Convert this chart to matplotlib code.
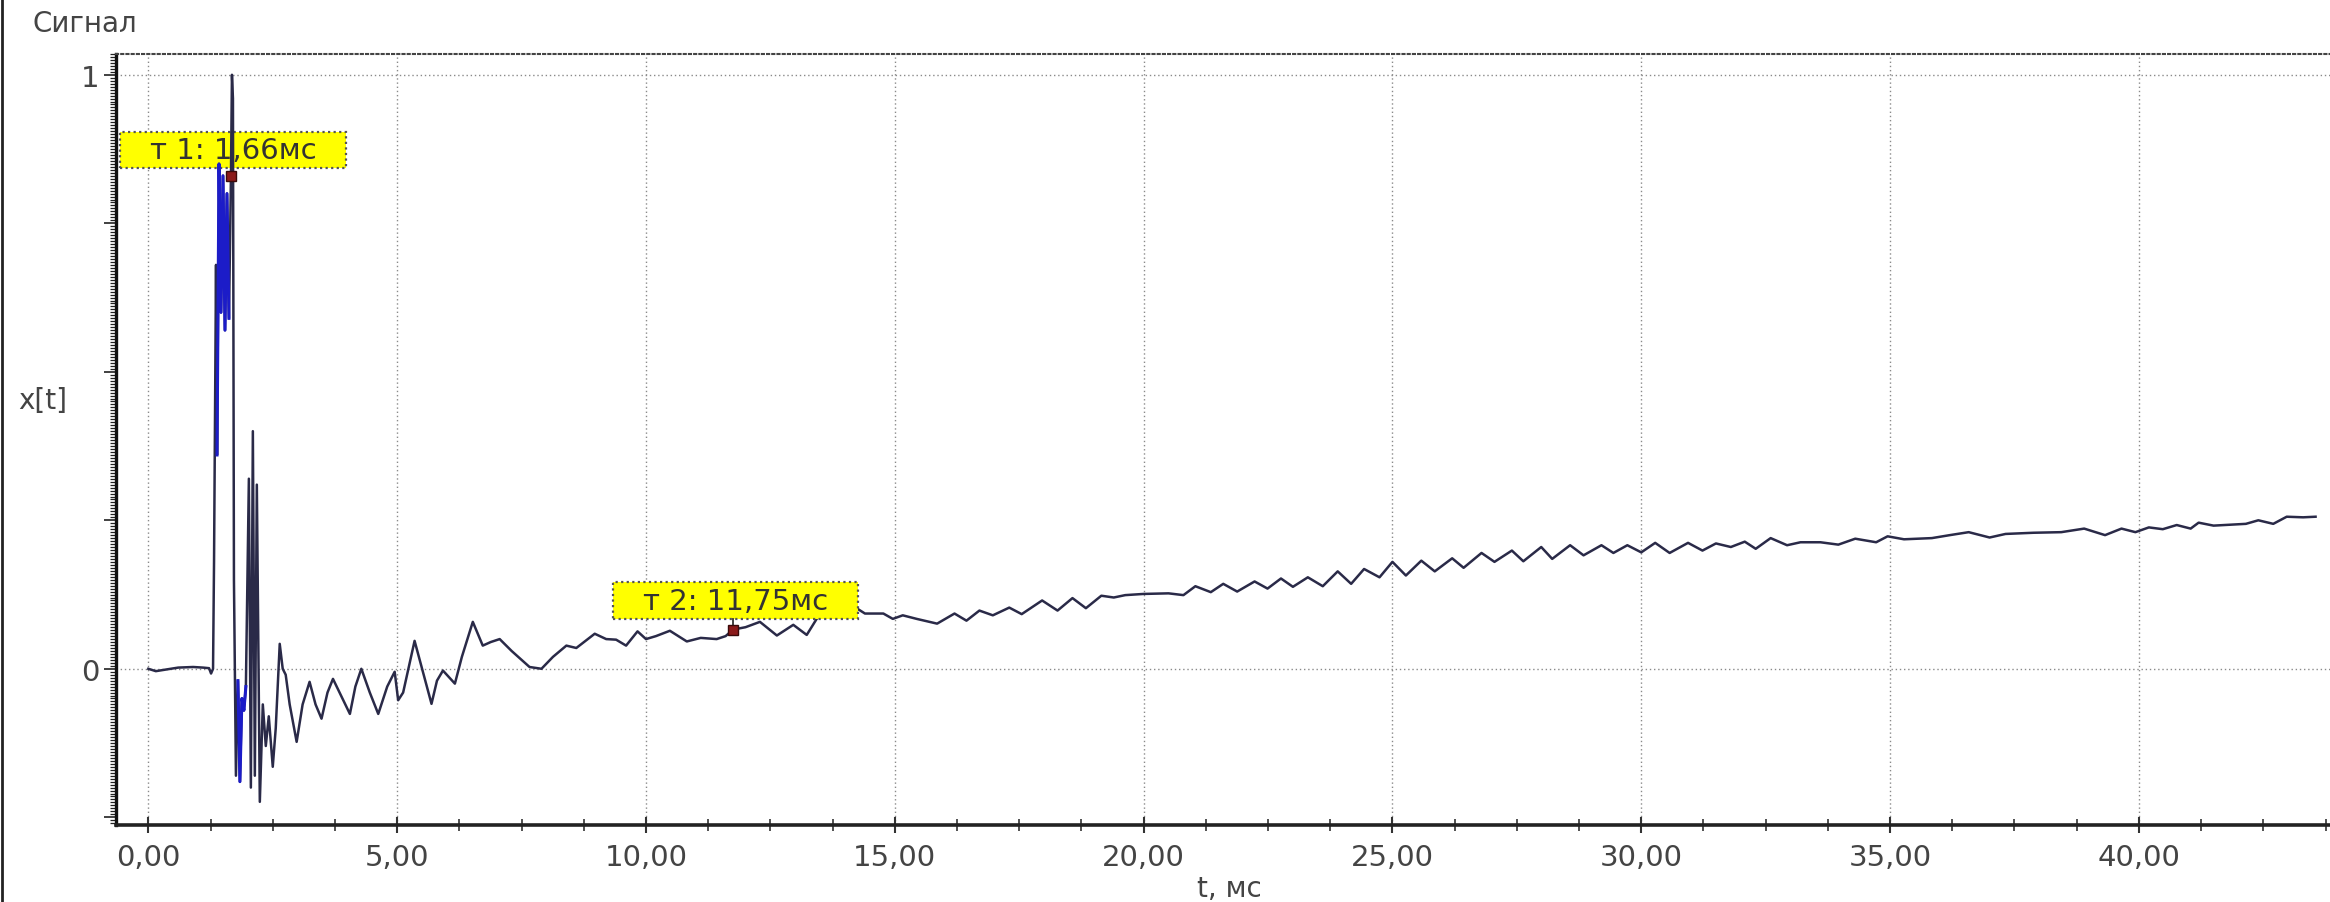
import numpy as np
import matplotlib.pyplot as plt
from matplotlib.patches import Rectangle
from matplotlib.lines import Line2D
from matplotlib.ticker import MultipleLocator, FuncFormatter
from matplotlib.transforms import IdentityTransform

# сигнал: вступление и основной всплеск
t_onset = [0.00, 0.15, 0.30, 0.60, 0.90, 1.10, 1.22, 1.26, 1.30, 1.32,
           1.36, 1.38, 1.42, 1.46, 1.50, 1.54, 1.58, 1.62, 1.66, 1.68,
           1.70, 1.72, 1.76, 1.80, 1.84, 1.88, 1.92, 1.96, 2.02, 2.06,
           2.10, 2.14, 2.18, 2.24, 2.30, 2.36, 2.42, 2.50, 2.56]
x_onset = [0.000, -0.004, -0.002, 0.002, 0.003, 0.002, 0.001, -0.008, 0.000, 0.18,
           0.68, 0.36, 0.85, 0.60, 0.83, 0.57, 0.80, 0.59, 0.83, 1.00,
           0.96, 0.15, -0.18, -0.02, -0.19, -0.05, -0.07, -0.03, 0.32, -0.20,
           0.40, -0.18, 0.31, -0.224, -0.06, -0.13, -0.08, -0.165, -0.10]

# затухающие колебания
t_ring = [2.64, 2.70, 2.76, 2.84, 2.98, 3.10, 3.24, 3.36, 3.48, 3.60,
          3.71, 3.90, 4.05, 4.16, 4.28, 4.45, 4.62, 4.80, 4.95, 5.02,
          5.12, 5.35, 5.50, 5.69, 5.80, 5.92, 6.16, 6.30, 6.52, 6.72,
          6.88, 7.06, 7.30, 7.66, 7.90, 8.13, 8.40, 8.60, 8.97, 9.20,
          9.40, 9.60, 9.83, 10.00, 10.20, 10.48, 10.82, 11.10, 11.42, 11.60,
          11.75, 12.00, 12.29, 12.63, 12.96, 13.23, 13.43, 13.60, 13.90, 14.25,
          14.40, 14.77, 14.96, 15.16, 15.44, 15.85, 16.20, 16.44, 16.70, 16.97,
          17.30, 17.55]
x_ring = [0.042, 0.000, -0.010, -0.060, -0.123, -0.060, -0.022, -0.060, -0.084, -0.040,
          -0.017, -0.050, -0.076, -0.030, 0.000, -0.040, -0.076, -0.030, -0.005, -0.053,
          -0.040, 0.047, 0.000, -0.059, -0.020, -0.003, -0.025, 0.020, 0.079, 0.039,
          0.045, 0.050, 0.030, 0.003, 0.000, 0.020, 0.039, 0.035, 0.059, 0.050,
          0.049, 0.039, 0.063, 0.050, 0.055, 0.064, 0.046, 0.052, 0.050, 0.055,
          0.066, 0.070, 0.079, 0.056, 0.074, 0.057, 0.084, 0.098, 0.100, 0.101,
          0.093, 0.093, 0.084, 0.090, 0.084, 0.076, 0.093, 0.081, 0.098, 0.090,
          0.103, 0.092]

# медленный дрейф с пульсацией
t_tail = [17.96, 18.27, 18.57, 18.84, 19.15, 19.40, 19.63, 20.00, 20.50, 20.80,
          21.04, 21.35, 21.60, 21.88, 22.23, 22.49, 22.76, 23.00, 23.30, 23.60,
          23.90, 24.17, 24.43, 24.74, 25.00, 25.27, 25.58, 25.85, 26.20, 26.43,
          26.79, 27.05, 27.40, 27.63, 27.99, 28.21, 28.57, 28.84, 29.20, 29.44,
          29.72, 30.00, 30.28, 30.57, 30.94, 31.23, 31.50, 31.80, 32.08, 32.30,
          32.60, 32.93, 33.20, 33.60, 33.96, 34.30, 34.72, 34.95, 35.28, 35.84,
          36.20, 36.58, 37.00, 37.32, 37.88, 38.44, 38.90, 39.32, 39.65, 39.93,
          40.20, 40.48, 40.76, 41.04, 41.20, 41.50, 42.15, 42.40, 42.70, 42.97,
          43.30, 43.55]
x_tail = [0.115, 0.098, 0.119, 0.102, 0.123, 0.120, 0.124, 0.126, 0.127, 0.124,
          0.139, 0.129, 0.143, 0.130, 0.147, 0.135, 0.152, 0.138, 0.154, 0.139,
          0.164, 0.143, 0.168, 0.154, 0.180, 0.157, 0.182, 0.164, 0.186, 0.170,
          0.195, 0.180, 0.199, 0.181, 0.205, 0.185, 0.208, 0.191, 0.208, 0.195,
          0.208, 0.196, 0.212, 0.195, 0.212, 0.199, 0.211, 0.205, 0.214, 0.202,
          0.220, 0.208, 0.213, 0.213, 0.209, 0.219, 0.213, 0.223, 0.218, 0.220,
          0.225, 0.230, 0.221, 0.227, 0.229, 0.230, 0.236, 0.225, 0.236, 0.230,
          0.238, 0.235, 0.242, 0.236, 0.246, 0.241, 0.244, 0.250, 0.244, 0.256,
          0.255, 0.256]

# маркеры
marker_t = [1.66, 11.75]
marker_x = [0.83, 0.066]
marker_labels = ['т 1: 1,66мс', 'т 2: 11,75мс']

t = np.concatenate([t_onset, t_ring, t_tail])
x = np.concatenate([x_onset, x_ring, x_tail])

W, H = 2330, 903
fig = plt.figure(figsize=(W / 100, H / 100), dpi=100)
ax = fig.add_axes([116 / W, 1 - 826 / H, 1 - 116 / W, (826 - 55) / H])

ax.set_xlim(-0.65, 43.84)
ax.set_ylim(-0.263, 1.035)

# сетка
for xv in np.arange(0, 45, 5):
    ax.axvline(xv, color='#8a8a8a', lw=1.0, ls=(0, (1, 2)), zorder=0)
for yv in (0, 1):
    ax.axhline(yv, color='#8a8a8a', lw=1.0, ls=(0, (1, 2)), zorder=0)

# сам сигнал, плотные участки подсвечены синим
ax.plot(t, x, color='#2a2a48', lw=1.8, zorder=2)
blue = ((t >= 1.38) & (t <= 1.64)) | ((t >= 1.80) & (t <= 1.96))
ax.plot(np.where(blue, t, np.nan), np.where(blue, x, np.nan),
        color='#1c1cc8', lw=2.2, zorder=2)

ax.plot(marker_t, marker_x, 's', color='#8b1a1a', mec='#3a0a0a', ms=7, zorder=6)

# оси
ax.spines['right'].set_visible(False)
ax.spines['top'].set_linestyle((0, (1, 1.5)))
ax.spines['top'].set_color('#444444')
ax.spines['top'].set_linewidth(1.5)
ax.spines['left'].set_linewidth(2.4)
ax.spines['left'].set_color('#111111')
ax.spines['bottom'].set_linewidth(2.6)
ax.spines['bottom'].set_color('#222222')

ax.xaxis.set_major_locator(MultipleLocator(5))
ax.xaxis.set_minor_locator(MultipleLocator(1.25))
ax.xaxis.set_major_formatter(FuncFormatter(lambda v, p: f'{v:.2f}'.replace('.', ',')))
ax.yaxis.set_major_locator(MultipleLocator(0.25))
ax.yaxis.set_minor_locator(MultipleLocator(0.005))
ax.yaxis.set_major_formatter(FuncFormatter(
    lambda v, p: '1' if abs(v - 1) < 1e-9 else ('0' if abs(v) < 1e-9 else '')))

ax.tick_params(axis='x', which='major', direction='inout', length=12, width=1.5,
               color='#333333', labelsize=21, labelcolor='#444444', pad=7)
ax.tick_params(axis='x', which='minor', direction='inout', length=8, width=1.2,
               color='#333333')
ax.tick_params(axis='y', which='major', direction='out', length=9, width=1.3,
               color='#333333', labelsize=21, labelcolor='#444444', pad=3)
ax.tick_params(axis='y', which='minor', direction='out', length=4, width=0.9,
               color='#222222')

ax.set_xlabel('t, мс', fontsize=20, color='#444444', va='center')
ax.xaxis.set_label_coords(0.503, -0.082)
ax.set_ylabel('x[t]', fontsize=20, color='#444444', rotation=0, ha='center', va='center')
ax.yaxis.set_label_coords(-0.033, 0.551)

fig.text(33 / W, 1 - 24 / H, 'Сигнал', fontsize=20, color='#444444', ha='left', va='center')

# рамка окна слева
fig.add_artist(Line2D([1.5 / W, 1.5 / W], [0, 1], transform=fig.transFigure,
                      color='#222222', lw=2))

# подписи маркеров: (ширина, высота, сдвиг x, сдвиг y, zorder) в пикселях
box_specs = [(226, 36, 2, 26, 1), (245, 37, 2, 29, 4)]
for mt, mv, label, (bw, bh, dx, dy, zo) in zip(marker_t, marker_x, marker_labels, box_specs):
    px, py = ax.transData.transform((mt, mv))
    cx, cy = px + dx, py + dy
    rect = Rectangle((cx - bw / 2, cy - bh / 2), bw, bh, transform=IdentityTransform(),
                     facecolor='#ffff00', edgecolor='#555555', lw=1.6,
                     ls=(0, (1, 1.5)), zorder=zo, clip_on=False)
    ax.add_artist(rect)
    ax.add_artist(Line2D([px, px], [py, cy - bh / 2], transform=IdentityTransform(),
                         color='#333333', lw=1.3, zorder=zo, clip_on=False))
    ax.text(cx, cy, label, transform=IdentityTransform(), fontsize=21, color='#333333',
            ha='center', va='center', zorder=zo + 0.5, clip_on=False)

fig.savefig('out.png', dpi=100)
